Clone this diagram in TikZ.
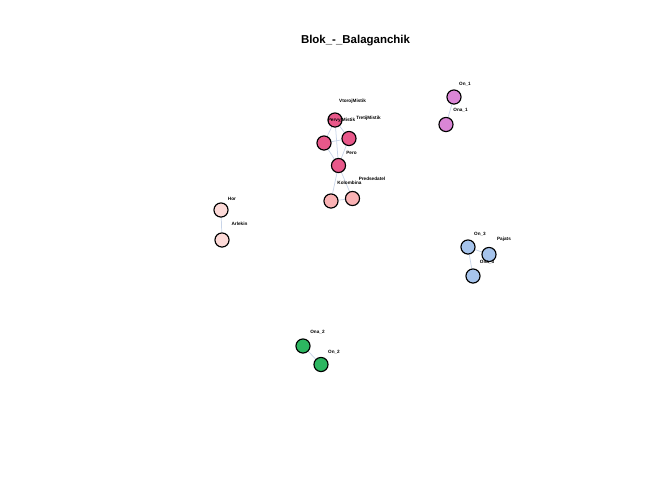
\documentclass[tikz,border=0pt]{standalone}
\usepackage{fontspec}
\setmainfont{Liberation Sans}
\usetikzlibrary{backgrounds}
\definecolor{pinkD}{RGB}{232,88,138}
\definecolor{pinkL}{RGB}{250,178,180}
\definecolor{orch}{RGB}{218,134,214}
\definecolor{lblue}{RGB}{166,196,236}
\definecolor{misty}{RGB}{253,218,216}
\definecolor{grn}{RGB}{44,182,96}
\definecolor{edgec}{RGB}{200,212,232}
\begin{document}
\begin{tikzpicture}[x=0.75pt,y=-0.75pt,
  vtx/.style={circle,draw=black,line width=0.85pt,minimum size=10.6pt,inner sep=0pt},
  lbl/.style={font=\fontsize{3.5}{4}\selectfont\bfseries,inner sep=0pt},
  edg/.style={draw=edgec,line width=0.55pt}]
\useasboundingbox (0,0) rectangle (672,480);
\node[font=\fontsize{8.6}{10}\selectfont\bfseries] (title) at (355.5,41) {Blok\_-\_Balaganchik};
% vertices
\node[vtx,fill=pinkD] (V) at (335,120) {};
\node[vtx,fill=pinkD] (P) at (324,143) {};
\node[vtx,fill=pinkD] (T) at (349,138.5) {};
\node[vtx,fill=pinkD] (Pe) at (338.5,165.5) {};
\node[vtx,fill=pinkL] (K) at (331,201) {};
\node[vtx,fill=pinkL] (Pr) at (352.5,198.5) {};
\node[vtx,fill=orch] (On1) at (454,97) {};
\node[vtx,fill=orch] (Ona1) at (446,124.5) {};
\node[vtx,fill=lblue] (On3) at (468,247) {};
\node[vtx,fill=lblue] (Pa) at (489,254.5) {};
\node[vtx,fill=lblue] (Ona3) at (473,276) {};
\node[vtx,fill=misty] (Ho) at (221,210) {};
\node[vtx,fill=misty] (Ar) at (222,240) {};
\node[vtx,fill=grn] (Ona2) at (303,346) {};
\node[vtx,fill=grn] (On2) at (321,364.5) {};
% edges
\begin{scope}[on background layer]
\draw[edg] (V) -- (P) (V) -- (T) (V) -- (Pe) (P) -- (T) (P) -- (Pe) (T) -- (Pe)
  (Pe) -- (K) (Pe) -- (Pr) (K) -- (Pr)
  (On1) -- (Ona1) (On3) -- (Pa) (On3) -- (Ona3) (Ho) -- (Ar) (Ona2) -- (On2);
\end{scope}
% labels
\node[lbl] (lV) at (352.5,101) {VtorojMistik};
\node[lbl] (lP) at (341.5,120.5) {PervyjMistik};
\node[lbl] (lT) at (368.5,118) {TretijMistik};
\node[lbl] (lPe) at (351.5,152.5) {Pero};
\node[lbl] (lK) at (349.5,183) {Kolombina};
\node[lbl] (lPr) at (372,178.5) {Predsedatel};
\node[lbl] (lOn1) at (465,84) {On\_1};
\node[lbl] (lOna1) at (460.5,110) {Ona\_1};
\node[lbl] (lOn3) at (480,234) {On\_3};
\node[lbl] (lPa) at (504,239) {Pajats};
\node[lbl] (lOna3) at (487,262) {Ona\_3};
\node[lbl] (lHo) at (232,199) {Hor};
\node[lbl] (lAr) at (239.5,223.5) {Arlekin};
\node[lbl] (lOna2) at (317.5,332.5) {Ona\_2};
\node[lbl] (lOn2) at (334,352) {On\_2};
\end{tikzpicture}
\end{document}
